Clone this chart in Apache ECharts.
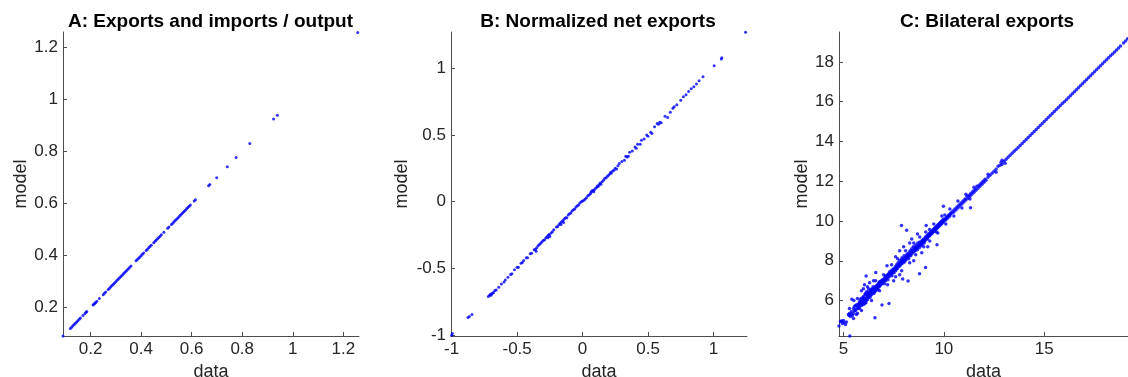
<!DOCTYPE html>
<html>
<head>
<meta charset="utf-8">
<script src="https://cdn.jsdelivr.net/npm/echarts@6/dist/echarts.min.js"></script>
<style>
  html, body { margin: 0; padding: 0; background: #fff; }
  #chart { width: 1128px; height: 377px; }
</style>
</head>
<body>
<div id="chart"></div>
<script>
// panel titles
const titles = ['A: Exports and imports / output', 'B: Normalized net exports', 'C: Bilateral exports']

// tick labels
const aTicks = [0.2, 0.4, 0.6, 0.8, 1, 1.2]
const bTicks = [-1, -0.5, 0, 0.5, 1]
const cXTicks = [5, 10, 15]
const cYTicks = [6, 8, 10, 12, 14, 16, 18]

// A: [data, model]
const sharePoints = [
  [0.091, 0.091], [0.12, 0.12], [0.125, 0.125], [0.13, 0.13], [0.135, 0.135], [0.14, 0.14], [0.145, 0.145],
  [0.15, 0.15], [0.155, 0.155], [0.16, 0.16], [0.17, 0.17], [0.178, 0.178], [0.182, 0.182], [0.185, 0.185],
  [0.21, 0.21], [0.213, 0.213], [0.217, 0.217], [0.22, 0.22], [0.225, 0.225], [0.235, 0.235], [0.25, 0.25],
  [0.255, 0.255], [0.26, 0.26], [0.27, 0.27], [0.275, 0.275], [0.28, 0.28], [0.285, 0.285], [0.29, 0.29],
  [0.295, 0.295], [0.30, 0.30], [0.305, 0.305], [0.31, 0.31], [0.315, 0.315], [0.32, 0.32], [0.325, 0.325],
  [0.33, 0.33], [0.335, 0.335], [0.34, 0.34], [0.345, 0.345], [0.35, 0.35], [0.355, 0.355], [0.36, 0.36],
  [0.38, 0.38], [0.385, 0.385], [0.39, 0.39], [0.395, 0.395], [0.40, 0.40], [0.405, 0.405], [0.41, 0.41],
  [0.42, 0.42], [0.425, 0.425], [0.43, 0.43], [0.435, 0.435], [0.44, 0.44], [0.45, 0.45], [0.455, 0.455],
  [0.46, 0.46], [0.465, 0.465], [0.47, 0.47], [0.475, 0.475], [0.48, 0.48], [0.49, 0.49], [0.505, 0.505],
  [0.51, 0.51], [0.52, 0.52], [0.525, 0.525], [0.53, 0.53], [0.535, 0.535], [0.54, 0.54], [0.545, 0.545],
  [0.55, 0.55], [0.555, 0.555], [0.56, 0.56], [0.565, 0.565], [0.57, 0.57], [0.575, 0.575], [0.58, 0.58],
  [0.585, 0.585], [0.59, 0.59], [0.595, 0.595], [0.61, 0.61], [0.615, 0.615], [0.667, 0.669], [0.672, 0.674],
  [0.699, 0.70], [0.741, 0.742], [0.776, 0.777], [0.83, 0.831], [0.924, 0.925], [0.939, 0.94], [1.257, 1.258]
]

// B: [data, model]
const netPoints = [
  [-0.995, -0.987], [-1.0, -1.0], [-0.875, -0.867], [-0.865, -0.86], [-0.845, -0.845],
  [-0.72, -0.71], [-0.71, -0.70], [-0.705, -0.695], [-0.70, -0.70], [-0.695, -0.69], [-0.69, -0.685],
  [-0.68, -0.68], [-0.67, -0.665], [-0.66, -0.66], [-0.64, -0.64], [-0.62, -0.615], [-0.60, -0.60],
  [-0.59, -0.585], [-0.57, -0.565], [-0.55, -0.545], [-0.54, -0.54], [-0.52, -0.51], [-0.50, -0.49],
  [-0.49, -0.49], [-0.47, -0.46], [-0.46, -0.455], [-0.45, -0.44], [-0.43, -0.42], [-0.42, -0.42],
  [-0.40, -0.39], [-0.39, -0.385], [-0.37, -0.36], [-0.36, -0.355], [-0.355, -0.37], [-0.35, -0.345],
  [-0.34, -0.33], [-0.33, -0.32], [-0.32, -0.31], [-0.31, -0.30], [-0.30, -0.29], [-0.29, -0.285],
  [-0.28, -0.27], [-0.27, -0.26], [-0.265, -0.27], [-0.26, -0.25], [-0.255, -0.245], [-0.25, -0.26],
  [-0.24, -0.235], [-0.23, -0.225], [-0.22, -0.21], [-0.20, -0.19], [-0.19, -0.185], [-0.18, -0.17],
  [-0.17, -0.16], [-0.165, -0.17], [-0.16, -0.15], [-0.15, -0.14], [-0.145, -0.155], [-0.14, -0.13],
  [-0.13, -0.12], [-0.12, -0.12], [-0.11, -0.10], [-0.10, -0.09], [-0.09, -0.085], [-0.08, -0.07],
  [-0.07, -0.06], [-0.06, -0.055], [-0.05, -0.04], [-0.04, -0.03], [-0.03, -0.025], [-0.02, -0.01],
  [-0.01, 0.0], [0.0, 0.005], [0.01, 0.01], [0.02, 0.02], [0.03, 0.03], [0.04, 0.045], [0.05, 0.05],
  [0.06, 0.06], [0.065, 0.07], [0.07, 0.08], [0.08, 0.085], [0.085, 0.075], [0.09, 0.09], [0.10, 0.10],
  [0.11, 0.11], [0.115, 0.12], [0.12, 0.115], [0.13, 0.13], [0.135, 0.14], [0.14, 0.13], [0.15, 0.15],
  [0.16, 0.16], [0.17, 0.175], [0.18, 0.18], [0.19, 0.19], [0.20, 0.20], [0.21, 0.21], [0.215, 0.22],
  [0.22, 0.215], [0.23, 0.23], [0.24, 0.235], [0.25, 0.25], [0.26, 0.245], [0.27, 0.27], [0.28, 0.285],
  [0.30, 0.30], [0.32, 0.31], [0.33, 0.34], [0.34, 0.335], [0.35, 0.34], [0.36, 0.37], [0.38, 0.38],
  [0.40, 0.41], [0.41, 0.40], [0.42, 0.43], [0.44, 0.43], [0.45, 0.46], [0.47, 0.47], [0.49, 0.50],
  [0.50, 0.49], [0.53, 0.51], [0.52, 0.52], [0.55, 0.56], [0.57, 0.585], [0.58, 0.58], [0.60, 0.59],
  [0.59, 0.595], [0.63, 0.64], [0.65, 0.63], [0.67, 0.67], [0.69, 0.70], [0.70, 0.71], [0.72, 0.725],
  [0.75, 0.76], [0.77, 0.785], [0.79, 0.80], [0.81, 0.825], [0.83, 0.845], [0.85, 0.86], [0.87, 0.88],
  [0.89, 0.905], [0.92, 0.935], [1.005, 1.017], [1.06, 1.068], [1.064, 1.077], [1.245, 1.268]
]

// C: [data, model]
const bilateralPoints = [
  [4.78, 4.72], [4.85, 4.95], [4.9, 4.98], [4.95, 4.85], [5.0, 5.0], [5.02, 4.9], [5.1, 4.8], [5.15, 4.92],
  [5.25, 5.3], [5.28, 5.25], [5.3, 5.35], [5.32, 4.22], [5.35, 5.2], [5.38, 5.32], [5.4, 5.45], [5.42, 6.07],
  [5.45, 5.25], [5.5, 5.35], [5.5, 5.6], [5.52, 6.0], [5.55, 5.48], [5.6, 5.5], [5.65, 5.3], [5.7, 5.36],
  [5.7, 5.72], [5.72, 5.65], [5.75, 5.8], [5.78, 5.85], [5.8, 5.62], [5.85, 5.9], [5.88, 6.1], [5.9, 5.75],
  [5.9, 6.5], [5.92, 5.85], [5.95, 6.0], [6.0, 5.8], [6.0, 6.2], [6.0, 6.6], [6.02, 6.05], [6.05, 5.95],
  [6.05, 6.8], [6.08, 6.3], [6.1, 6.12], [6.12, 5.9], [6.13, 7.23], [6.15, 6.45], [6.18, 6.2], [6.2, 6.05],
  [6.22, 6.35], [6.25, 6.6], [6.28, 6.22], [6.3, 6.4], [6.3, 6.9], [6.32, 6.15], [6.35, 6.5], [6.38, 6.55],
  [6.4, 6.3], [6.42, 6.6], [6.45, 6.45], [6.48, 6.7], [6.5, 6.55], [6.5, 7.0], [6.52, 6.35], [6.55, 6.65],
  [6.57, 5.14], [6.58, 6.7], [6.6, 6.5], [6.61, 7.41], [6.62, 6.62], [6.65, 6.75], [6.68, 6.6], [6.7, 6.8],
  [6.72, 6.55], [6.75, 6.85], [6.78, 6.7], [6.8, 6.95], [6.85, 6.8], [6.88, 7.0], [6.9, 6.9], [6.92, 5.78],
  [6.95, 7.05], [7.0, 6.95], [7.02, 7.1], [7.05, 6.85], [7.08, 7.2], [7.1, 7.0], [7.12, 7.25], [7.15, 7.1],
  [7.17, 7.75], [7.2, 7.3], [7.22, 7.05], [7.25, 7.35], [7.27, 5.85], [7.28, 7.2], [7.3, 7.45], [7.35, 7.3],
  [7.38, 7.5], [7.4, 7.35], [7.42, 7.25], [7.45, 7.55], [7.48, 7.45], [7.5, 7.6], [7.5, 7.0], [7.52, 7.4],
  [7.55, 7.55], [7.58, 7.7], [7.6, 7.5], [7.6, 8.2], [7.62, 7.65], [7.65, 7.8], [7.68, 7.6], [7.7, 7.75],
  [7.72, 7.9], [7.75, 7.7], [7.78, 7.85], [7.8, 8.0], [7.8, 8.5], [7.8, 7.3], [7.82, 7.75], [7.85, 7.9],
  [7.88, 8.05], [7.89, 9.78], [7.9, 7.85], [7.92, 8.15], [7.95, 7.08], [7.95, 8.0], [7.98, 7.9], [8.0, 8.1],
  [8.0, 8.7], [8.02, 8.25], [8.05, 7.95], [8.08, 8.1], [8.1, 8.2], [8.12, 8.05], [8.15, 9.53], [8.15, 8.3],
  [8.18, 8.15], [8.2, 8.35], [8.22, 6.99], [8.22, 8.25], [8.25, 8.1], [8.28, 8.4], [8.3, 8.3], [8.3, 8.9],
  [8.32, 8.5], [8.35, 8.25], [8.38, 8.45], [8.4, 8.6], [8.4, 9.1], [8.42, 8.35], [8.45, 8.5], [8.48, 8.7],
  [8.5, 8.45], [8.5, 8.0], [8.52, 8.55], [8.55, 8.65], [8.58, 8.5], [8.6, 8.8], [8.62, 8.6], [8.65, 8.7],
  [8.68, 8.55], [8.69, 9.35], [8.7, 8.9], [8.72, 8.7], [8.75, 8.8], [8.78, 8.65], [8.79, 7.35], [8.8, 8.95],
  [8.82, 8.8], [8.85, 8.9], [8.88, 8.75], [8.9, 9.0], [8.9, 8.4], [8.92, 8.85], [8.95, 9.05], [8.98, 8.95],
  [9.0, 9.1], [9.02, 8.9], [9.05, 9.0], [9.08, 9.2], [9.09, 7.66], [9.1, 9.1], [9.12, 9.78], [9.15, 9.25],
  [9.18, 9.1], [9.2, 9.3], [9.2, 8.7], [9.22, 9.2], [9.25, 9.35], [9.28, 9.25], [9.29, 9.57], [9.3, 9.4],
  [9.32, 9.3], [9.35, 9.45], [9.38, 9.35], [9.4, 9.5], [9.42, 9.4], [9.45, 9.55], [9.48, 9.45], [9.5, 9.6],
  [9.52, 9.5], [9.55, 9.65], [9.58, 9.55], [9.6, 9.7], [9.62, 9.6], [9.63, 9.45], [9.65, 9.75], [9.66, 8.81],
  [9.68, 9.65], [9.7, 9.8], [9.72, 9.7], [9.75, 9.85], [9.78, 9.75], [9.8, 9.9], [9.82, 9.8], [9.85, 9.95],
  [9.88, 9.85], [9.9, 10.0], [9.92, 9.9], [9.95, 10.05], [9.98, 10.74], [9.98, 9.95], [10.0, 10.1],
  [10.05, 10.3], [10.1, 10.05], [10.15, 10.2], [10.2, 10.15], [10.25, 10.3], [10.3, 10.25], [10.35, 10.4],
  [10.4, 10.4], [10.45, 10.5], [10.5, 10.45], [10.55, 10.6], [10.6, 10.55], [10.65, 10.7], [10.7, 10.65],
  [10.75, 10.8], [10.8, 10.75], [10.85, 10.9], [10.9, 10.85], [10.95, 11.0], [11.0, 10.95], [11.05, 11.1],
  [11.1, 11.05], [11.15, 11.25], [11.2, 11.15], [11.25, 11.3], [11.3, 11.25], [11.33, 10.66], [11.35, 11.4],
  [11.4, 11.35], [11.45, 11.5], [11.5, 11.45], [11.55, 11.6], [11.6, 11.55], [11.65, 11.75], [11.7, 11.65],
  [11.75, 11.8], [11.8, 11.75], [11.85, 11.9], [11.9, 11.85], [11.95, 12.0], [12.0, 11.95], [12.05, 12.1],
  [12.1, 12.05], [12.2, 12.2], [12.3, 12.3], [12.4, 12.4], [12.5, 12.5], [12.6, 12.6], [12.7, 12.75],
  [12.8, 12.8], [12.85, 12.95], [12.9, 12.85], [13.0, 13.0], [13.05, 12.9], [13.1, 13.1], [13.2, 13.2],
  [13.3, 13.3], [13.4, 13.4], [13.5, 13.5], [13.6, 13.6], [13.7, 13.7], [13.8, 13.8], [13.9, 13.9],
  [14.0, 14.0], [14.1, 14.1], [14.2, 14.2], [14.3, 14.3], [14.4, 14.4], [14.5, 14.5], [14.6, 14.6],
  [14.7, 14.7], [14.8, 14.8], [14.9, 14.9], [15.0, 15.0], [15.1, 15.1], [15.2, 15.2], [15.3, 15.3],
  [15.4, 15.4], [15.5, 15.5], [15.6, 15.6], [15.7, 15.7], [15.8, 15.8], [15.9, 15.9], [16.0, 16.0],
  [16.1, 16.1], [16.2, 16.2], [16.3, 16.3], [16.4, 16.4], [16.5, 16.5], [16.6, 16.6], [16.7, 16.7],
  [16.8, 16.8], [16.9, 16.9], [17.0, 17.0], [17.1, 17.1], [17.2, 17.2], [17.3, 17.3], [17.4, 17.4],
  [17.5, 17.5], [17.6, 17.6], [17.7, 17.7], [17.8, 17.8], [17.9, 17.9], [18.0, 18.0], [18.1, 18.1],
  [18.2, 18.2], [18.3, 18.3], [18.4, 18.4], [18.5, 18.5], [18.6, 18.6], [18.7, 18.7], [18.8, 18.8],
  [18.95, 18.95], [19.05, 19.05], [19.15, 19.16]
]

// C: extra points in the crowded band below 13
const bilateralBand = [
  [5.55, 5.7], [5.6, 5.75], [5.62, 5.55], [5.68, 5.8], [5.74, 5.6], [5.8, 5.95], [5.83, 5.75], [5.86, 6.05],
  [5.94, 5.9], [5.97, 6.15], [6.03, 6.1], [6.07, 5.85], [6.1, 6.35], [6.14, 6.0], [6.17, 6.3], [6.21, 6.15],
  [6.24, 6.45], [6.27, 6.3], [6.33, 6.35], [6.36, 6.25], [6.4, 6.5], [6.44, 6.4], [6.47, 6.55], [6.53, 6.5],
  [6.56, 6.45], [6.6, 6.65], [6.64, 6.55], [6.67, 6.7], [6.71, 6.65], [6.74, 6.75], [6.77, 6.9], [6.82, 6.75],
  [6.86, 6.95], [6.93, 6.85], [6.97, 7.0], [7.03, 7.0], [7.07, 7.05], [7.13, 7.15], [7.18, 7.2], [7.23, 7.2],
  [7.26, 7.3], [7.32, 7.35], [7.37, 7.4], [7.43, 7.4], [7.47, 7.5], [7.53, 7.55], [7.57, 7.6], [7.63, 7.6],
  [7.67, 7.7], [7.73, 7.75], [7.77, 7.8], [7.83, 7.85], [7.87, 7.85], [7.93, 7.95], [7.97, 8.0], [8.03, 8.0],
  [8.07, 8.05], [8.13, 8.15], [8.17, 8.2], [8.23, 8.2], [8.27, 8.3], [8.33, 8.3], [8.37, 8.4], [8.43, 8.45],
  [8.47, 8.45], [8.53, 8.5], [8.57, 8.6], [8.63, 8.65], [8.67, 8.65], [8.73, 8.75], [8.77, 8.8], [8.83, 8.85],
  [8.87, 8.85], [8.93, 8.95], [8.97, 9.0], [9.03, 9.05], [9.07, 9.05], [9.13, 9.15], [9.17, 9.2], [9.23, 9.25],
  [9.27, 9.3], [9.33, 9.35], [9.37, 9.4], [9.43, 9.45], [9.47, 9.5], [9.53, 9.55], [9.57, 9.6], [9.63, 9.65],
  [9.67, 9.7], [9.73, 9.75], [9.77, 9.8], [9.83, 9.85], [9.87, 9.9], [9.93, 9.95], [9.97, 10.0], [10.03, 10.05],
  [10.08, 10.1], [10.13, 10.15], [10.18, 10.2], [10.23, 10.25], [10.28, 10.3], [10.33, 10.35],
  [7.0, 7.3], [7.2, 6.8], [7.4, 7.8], [7.6, 7.2], [7.7, 8.1], [7.9, 7.5], [8.1, 8.5], [8.3, 7.9],
  [8.5, 8.9], [8.6, 8.3], [8.8, 9.2], [9.0, 8.7], [9.1, 9.45], [9.3, 9.0], [9.5, 9.85], [9.7, 9.4],
  [9.9, 10.25], [10.1, 9.85], [10.3, 10.6], [10.5, 10.25], [10.7, 11.0], [10.9, 10.65], [11.1, 11.35],
  [11.3, 11.1], [11.5, 11.7], [12.2, 12.35], [12.6, 12.45], [12.9, 13.05], [6.2, 6.7], [6.4, 6.0],
  [6.6, 7.0], [6.8, 6.5], [5.7, 6.1], [5.9, 5.5], [5.3, 5.6], [5.5, 5.1]
]

const axisColor = '#4d4d4d'
const textColor = '#262626'
const font = 'Liberation Sans, Arial, Helvetica, sans-serif'

let makeX = (idx, min, max, ticks) => ({
  gridIndex: idx,
  type: 'value',
  min: min,
  max: max,
  name: 'data',
  nameLocation: 'middle',
  nameGap: 24,
  nameTextStyle: { fontSize: 18, color: textColor, fontFamily: font },
  axisLine: { onZero: false, lineStyle: { color: axisColor, width: 1 } },
  axisTick: { inside: true, length: 4, customValues: ticks, lineStyle: { color: axisColor } },
  axisLabel: { customValues: ticks, fontSize: 17, color: textColor, fontFamily: font, margin: 5 },
  splitLine: { show: false }
})

let makeY = (idx, min, max, ticks, gap) => ({
  gridIndex: idx,
  type: 'value',
  min: min,
  max: max,
  name: 'model',
  nameLocation: 'middle',
  nameRotate: 90,
  nameGap: gap,
  nameTextStyle: { fontSize: 18, color: textColor, fontFamily: font },
  axisLine: { onZero: false, lineStyle: { color: axisColor, width: 1 } },
  axisTick: { inside: true, length: 4, customValues: ticks, lineStyle: { color: axisColor } },
  axisLabel: { customValues: ticks, fontSize: 17, color: textColor, fontFamily: font, margin: 5 },
  splitLine: { show: false }
})

let makeSeries = (idx, points, size) => ({
  type: 'scatter',
  xAxisIndex: idx,
  yAxisIndex: idx,
  data: points,
  symbol: 'circle',
  symbolSize: size,
  itemStyle: { color: '#0000ff' },
  clip: false
})

const grids = [
  { left: 63, top: 32, width: 296, height: 304, outerBoundsMode: 'none' },
  { left: 451, top: 32, width: 296, height: 304, outerBoundsMode: 'none' },
  { left: 839, top: 32, width: 289, height: 304, outerBoundsMode: 'none' }
]
// title centres
const titleCentres = [210.5, 598, 987]

let chart = echarts.init(document.getElementById('chart'))

const option = {
  animation: false,
  title: titles.map((t, i) => ({
    text: t,
    left: titleCentres[i] - 5,
    top: 7,
    textAlign: 'center',
    textStyle: { fontSize: 19, fontWeight: 'bold', color: '#000', fontFamily: font }
  })),
  grid: grids,
  xAxis: [
    makeX(0, 0.091, 1.262, aTicks),
    makeX(1, -1.005, 1.256, bTicks),
    makeX(2, 4.78, 19.17, cXTicks)
  ],
  yAxis: [
    makeY(0, 0.091, 1.26, aTicks, 33),
    makeY(1, -1.005, 1.27, bTicks, 40),
    makeY(2, 4.22, 19.5, cYTicks, 28)
  ],
  series: [
    makeSeries(0, sharePoints, 3),
    makeSeries(1, netPoints, 3),
    makeSeries(2, bilateralPoints, 3.5),
    makeSeries(2, bilateralBand, 3.5)
  ]
}

chart.setOption(option)
</script>
</body>
</html>
